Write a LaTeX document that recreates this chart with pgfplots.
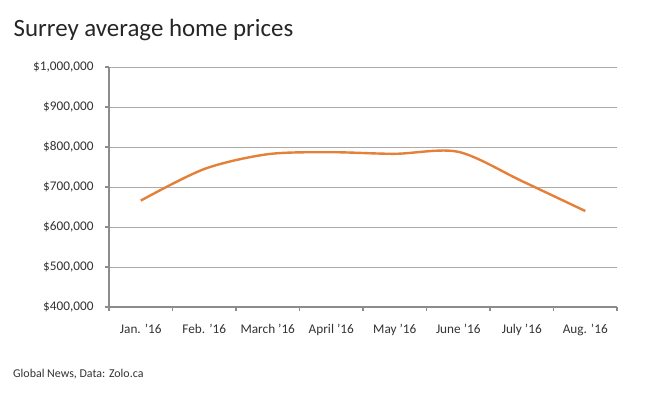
\documentclass[border=0pt]{standalone}
\usepackage{pgfplots}
\pgfplotsset{compat=1.18}
\usepackage{fontspec}
\setmainfont{Carlito}
\definecolor{lineor}{HTML}{E4803A}
\definecolor{gridc}{HTML}{ABABAB}
\definecolor{axc}{HTML}{8C8C8C}
\definecolor{txt}{HTML}{333333}
\begin{document}
\begin{tikzpicture}[x=1bp,y=1bp]
\path[use as bounding box] (0,0) rectangle (650,-398);
\node[anchor=base west, inner sep=0, text=black!85, font=\fontsize{25}{29}\selectfont] at (13.5,-36) {Surrey average home prices};
\node[anchor=base west, inner sep=0, text=txt, font=\fontsize{12}{14}\selectfont] at (13,-377) {Global News, Data: Zolo.ca};
\begin{axis}[
  at={(109bp,-307bp)}, anchor=south west,
  scale only axis, width=508bp, height=240bp,
  xmin=-0.5, xmax=7.5, ymin=400000, ymax=1000000,
  axis x line*=bottom, axis y line*=left,
  axis line style={axc, line width=1.4bp, -},
  xtick={0,...,7},
  xticklabels={Jan. '16, Feb. '16, March '16, April '16, May '16, June '16, July '16, Aug. '16},
  major x tick style={draw=none},
  minor xtick={-0.5,0.5,...,7.5},
  minor x tick style={axc, line width=1.2bp},
  minor tick length=4bp,
  ytick={400000,500000,...,1000000},
  major y tick style={axc, line width=1.2bp},
  major tick length=4bp,
  tick align=outside,
  ymajorgrids, grid style={gridc, line width=1bp},
  scaled y ticks=false,
  yticklabel={\$\pgfmathprintnumber[fixed, precision=0, 1000 sep={,}, assume math mode=true]{\tick}},
  ticklabel style={font=\fontsize{13.3}{15}\selectfont, text=txt},
  xticklabel style={yshift=-10bp},
  yticklabel style={xshift=-8bp},
  clip=false,
]
\addplot[lineor, line width=2.4bp, smooth] coordinates {
 (0,666000) (1,745000) (2,782000) (3,787000) (4,783000) (5,788000) (6,715000) (7,640000)
};
\end{axis}
\end{tikzpicture}
\end{document}
